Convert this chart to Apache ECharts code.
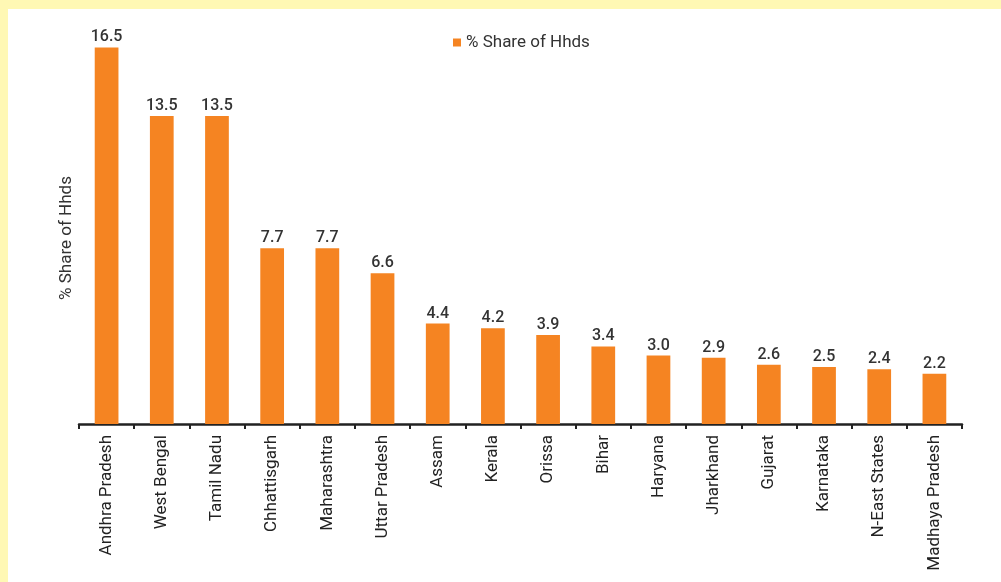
<!DOCTYPE html>
<html>
<head>
<meta charset="utf-8">
<script src="https://cdn.jsdelivr.net/npm/echarts@6/dist/echarts.min.js"></script>
<style>
  html, body { margin: 0; padding: 0; background: #FFF8B4; }
  #chart { position: absolute; left: 8px; top: 9px; width: 993px; height: 573px; background: #fff; }
</style>
</head>
<body>
<div id="chart"></div>
<script>
  const states = [
    'Andhra Pradesh', 'West Bengal', 'Tamil Nadu', 'Chhattisgarh', 'Maharashtra',
    'Uttar Pradesh', 'Assam', 'Kerala', 'Orissa', 'Bihar', 'Haryana', 'Jharkhand',
    'Gujarat', 'Karnataka', 'N-East States', 'Madhaya Pradesh'
  ];
  const shareOfHhds = [16.5, 13.5, 13.5, 7.7, 7.7, 6.6, 4.4, 4.2, 3.9, 3.4, 3.0, 2.9, 2.6, 2.5, 2.4, 2.2];
  const seriesName = '% Share of Hhds';

  const font = 'Roboto, "DejaVu Sans", sans-serif';
  const chart = echarts.init(document.getElementById('chart'), null, { renderer: 'canvas' });

  chart.setOption({
    backgroundColor: '#fff',
    animation: false,
    textStyle: { fontFamily: font },
    legend: {
      data: [seriesName],
      top: 20,
      left: 440,
      itemWidth: 8,
      itemHeight: 8,
      itemGap: 7,
      icon: 'rect',
      textStyle: { fontSize: 17, color: '#333', fontFamily: font },
    },
    grid: { left: 71, right: 39, top: 27, bottom: 158 },
    xAxis: {
      type: 'category',
      data: states,
      axisLine: { lineStyle: { color: '#222', width: 2.5 } },
      axisTick: { show: true, length: 5, lineStyle: { color: '#222', width: 2 } },
      axisLabel: { rotate: 90, fontSize: 17, color: '#222', margin: 11, fontFamily: font },
    },
    yAxis: {
      type: 'value',
      min: 0,
      max: 17,
      name: seriesName,
      nameLocation: 'middle',
      nameGap: 4,
      nameTextStyle: { fontSize: 17, color: '#333', fontFamily: font, padding: [0, 16, 0, 0] },
      axisLine: { show: false },
      axisTick: { show: false },
      axisLabel: { show: false },
      splitLine: { show: false },
    },
    series: [{
      name: seriesName,
      type: 'bar',
      data: shareOfHhds,
      barWidth: '43%',
      itemStyle: { color: '#F58422' },
      label: {
        show: true,
        position: 'top',
        distance: 2,
        formatter: (p) => p.value.toFixed(1),
        fontSize: 16,
        fontWeight: 500,
        color: '#333',
        fontFamily: font,
      },
    }],
  });
</script>
</body>
</html>
